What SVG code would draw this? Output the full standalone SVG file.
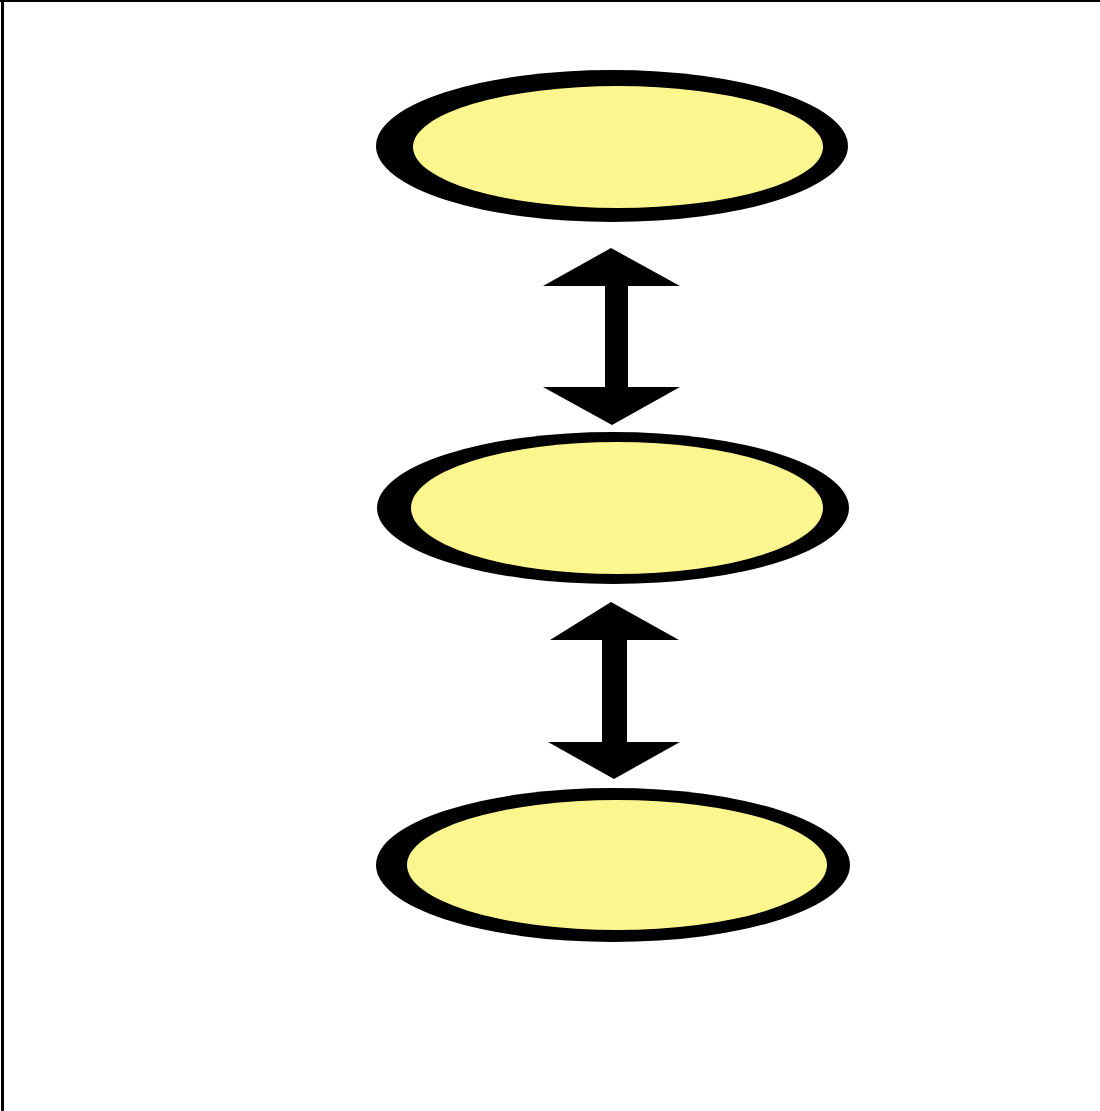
<svg xmlns="http://www.w3.org/2000/svg" width="1100" height="1111" viewBox="0 0 1100 1111">
  <style>
    .ring { fill: #000000; }
    .core { fill: #fbf68e; }
    .arrow { fill: #000000; }
    .frame { stroke: #000000; fill: none; }
  </style>
  <rect x="0" y="0" width="1100" height="1111" fill="#ffffff"/>
  <line class="frame" x1="0" y1="1" x2="1100" y2="1" stroke-width="2" stroke="#333333"/>
  <line class="frame" x1="2.5" y1="0" x2="2.5" y2="1111" stroke-width="3"/>

  <g id="node-top">
    <ellipse class="ring" cx="612" cy="146" rx="236" ry="76"/>
    <ellipse class="core" cx="618" cy="147" rx="205" ry="61"/>
  </g>
  <g id="node-middle">
    <ellipse class="ring" cx="613" cy="508" rx="236" ry="76"/>
    <ellipse class="core" cx="617" cy="508" rx="206" ry="66"/>
  </g>
  <g id="node-bottom">
    <ellipse class="ring" cx="613" cy="865" rx="237" ry="77"/>
    <ellipse class="core" cx="617" cy="865" rx="210" ry="65"/>
  </g>

  <g id="connectors">
    <polygon class="arrow" points="611,248 680,286 628,286 628,387 680,387 612,425 543,387 605,387 605,286 543,286"/>
    <polygon class="arrow" points="611,602 679,640 627,640 627,742 680,742 614,779 548,742 602,742 602,640 550,640"/>
  </g>
</svg>
